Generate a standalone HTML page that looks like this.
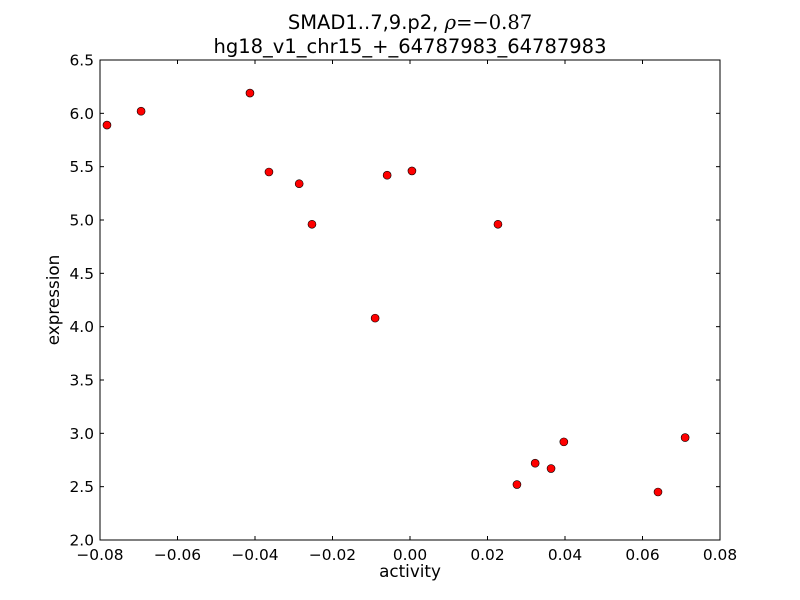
<!DOCTYPE html>
<html><head><meta charset="utf-8"><style>
body{margin:0;background:#fff;}
svg{display:block;font-family:"DejaVu Sans","Liberation Sans",sans-serif;}
</style></head><body>
<svg id="chart" width="800" height="600">
<rect x="0" y="0" width="800" height="600" fill="#fff"/>
<text x="410" y="29" text-anchor="middle" font-size="19.5">SMAD1..7,9.p2, <tspan font-family="'DejaVu Serif',serif" font-style="italic">ρ</tspan><tspan font-family="'DejaVu Serif',serif">=−0.87</tspan></text>
<text x="410" y="53" text-anchor="middle" font-size="19.5">hg18_v1_chr15_+_64787983_64787983</text>
<g id="ticks"></g>
<g id="points"></g>
<rect x="100" y="60" width="620" height="480" fill="none" stroke="#000" stroke-width="1"/>
<text x="410" y="577" text-anchor="middle" font-size="16.8">activity</text>
<text x="59" y="300" text-anchor="middle" font-size="16.8" transform="rotate(-90 59 300)">expression</text>
</svg>
<script>
const xValues=[-0.0782,-0.0694,-0.0413,-0.0364,-0.0286,-0.0253,-0.0090,-0.0059,0.0005,0.0227,0.0276,0.0323,0.0364,0.0397,0.0640,0.0710];
const yValues=[5.89,6.02,6.19,5.45,5.34,4.96,4.08,5.42,5.46,4.96,2.52,2.72,2.67,2.92,2.45,2.96];
const xTicks=[-0.08,-0.06,-0.04,-0.02,0.00,0.02,0.04,0.06,0.08];
const xTickLabels=["−0.08","−0.06","−0.04","−0.02","0.00","0.02","0.04","0.06","0.08"];
const yTicks=[2.0,2.5,3.0,3.5,4.0,4.5,5.0,5.5,6.0,6.5];
const yTickLabels=["2.0","2.5","3.0","3.5","4.0","4.5","5.0","5.5","6.0","6.5"];
const NS="http://www.w3.org/2000/svg";
const L=100,R=720,T=60,B=540;
function sx(v){return L+(v-(-0.08))/0.16*(R-L);}
function sy(v){return B-(v-2.0)/4.5*(B-T);}
const tg=document.getElementById('ticks');
function mk(tag,attrs,parent){const e=document.createElementNS(NS,tag);for(const k in attrs)e.setAttribute(k,attrs[k]);parent.appendChild(e);return e;}
xTicks.forEach((v,i)=>{const x=sx(v);
 const a=mk('line',{x1:x,x2:x,y1:B,y2:B-4,stroke:'#000'},tg);
 
 
 const b=mk('line',{x1:x,x2:x,y1:T,y2:T+4,stroke:'#000'},tg);
 
 
 const t=mk('text',{x:x,y:B+20,'text-anchor':'middle','font-size':15.4},tg);
 t.textContent=xTickLabels[i];
 
 
});
yTicks.forEach((v,i)=>{const y=sy(v);
 const a=mk('line',{x1:L,x2:L+4,y1:y,y2:y,stroke:'#000'},tg);
 
 
 const b=mk('line',{x1:R,x2:R-4,y1:y,y2:y,stroke:'#000'},tg);
 
 
 const t=mk('text',{x:L-6,y:y+5.5,'text-anchor':'end','font-size':15.4},tg);
 t.textContent=yTickLabels[i];
 
 
});
const pg=document.getElementById('points');
xValues.forEach((v,i)=>{
 const c=mk('circle',{cx:sx(v),cy:sy(yValues[i]),r:4,fill:'#ff0000',stroke:'#000','stroke-width':0.6},pg);
 
 
});
</script>
</body></html>
